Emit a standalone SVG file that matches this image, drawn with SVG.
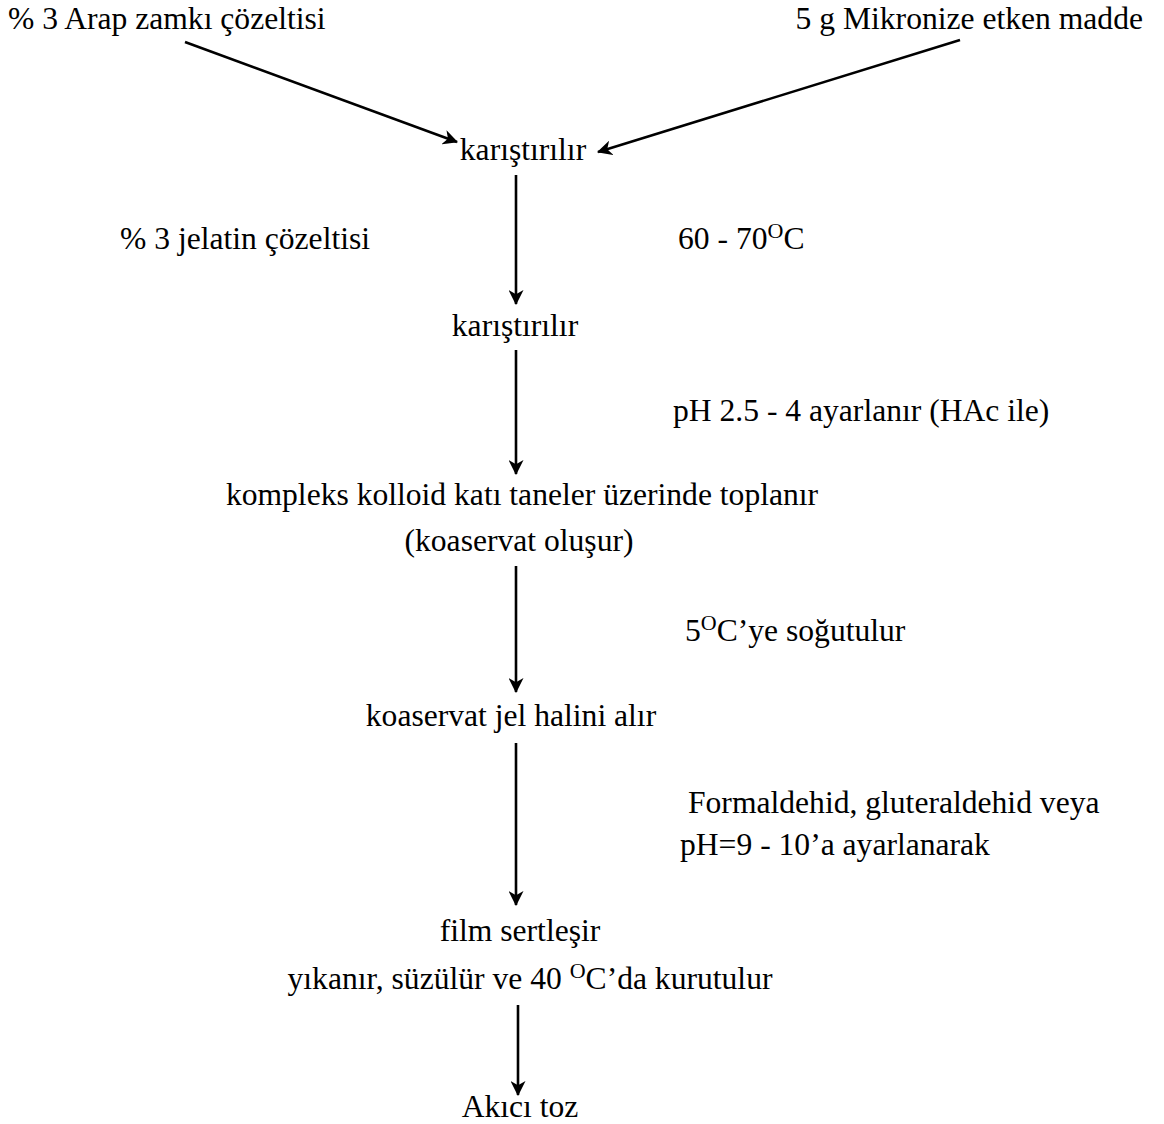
<svg xmlns="http://www.w3.org/2000/svg" width="1164" height="1124" viewBox="0 0 1164 1124">
<style>
text{font-family:"Liberation Serif","Times New Roman",serif;font-size:31.6px;fill:#000}
.c{text-anchor:middle}
.e{text-anchor:end}
.sup{font-size:22px}
line{stroke:#000;stroke-width:2.6;fill:none}
</style>
<defs>
<marker id="ah" viewBox="0 0 14 14" refX="13" refY="7" markerWidth="15" markerHeight="15" markerUnits="userSpaceOnUse" orient="auto">
<path d="M0,0 L14,7 L0,14 L4,7 Z" fill="#000"/>
</marker>
</defs>
<rect width="1164" height="1124" fill="#fff"/>
<g id="connectors">
<line x1="185" y1="42" x2="457" y2="142" marker-end="url(#ah)"/>
<line x1="960" y1="40" x2="598" y2="152" marker-end="url(#ah)"/>
<line x1="516" y1="175" x2="516" y2="304" marker-end="url(#ah)"/>
<line x1="516" y1="350" x2="516" y2="474" marker-end="url(#ah)"/>
<line x1="516" y1="566" x2="516" y2="692" marker-end="url(#ah)"/>
<line x1="516" y1="743" x2="516" y2="905" marker-end="url(#ah)"/>
<line x1="518" y1="1005" x2="518" y2="1095" marker-end="url(#ah)"/>
</g>
<g id="n1"><text x="8" y="29">% 3 Arap zamkı çözeltisi</text></g>
<g id="n2"><text class="e" x="1143" y="29">5 g Mikronize etken madde</text></g>
<g id="n3"><text class="c" x="523" y="160">karıştırılır</text></g>
<g id="n4"><text x="120" y="249">% 3 jelatin çözeltisi</text></g>
<g id="n5"><text x="678" y="249">60 - 70<tspan class="sup" dy="-11">O</tspan><tspan dy="11">C</tspan></text></g>
<g id="n6"><text class="c" x="515" y="336">karıştırılır</text></g>
<g id="n7"><text x="673" y="421">pH 2.5 - 4 ayarlanır (HAc ile)</text></g>
<g id="n8"><text class="c" x="522" y="505">kompleks kolloid katı taneler üzerinde toplanır</text><text class="c" x="519" y="551">(koaservat oluşur)</text></g>
<g id="n9"><text x="685" y="641">5<tspan class="sup" dy="-11">O</tspan><tspan dy="11">C’ye  soğutulur</tspan></text></g>
<g id="n10"><text class="c" x="511" y="726">koaservat jel halini alır</text></g>
<g id="n11"><text x="688" y="813">Formaldehid, gluteraldehid veya</text><text x="680" y="855">pH=9 - 10’a ayarlanarak</text></g>
<g id="n12"><text class="c" x="520" y="941">film sertleşir</text><text class="c" x="530" y="989">yıkanır, süzülür ve 40 <tspan class="sup" dy="-11">O</tspan><tspan dy="11">C’da kurutulur</tspan></text></g>
<g id="n13"><text class="c" x="520" y="1117">Akıcı toz</text></g>
</svg>
